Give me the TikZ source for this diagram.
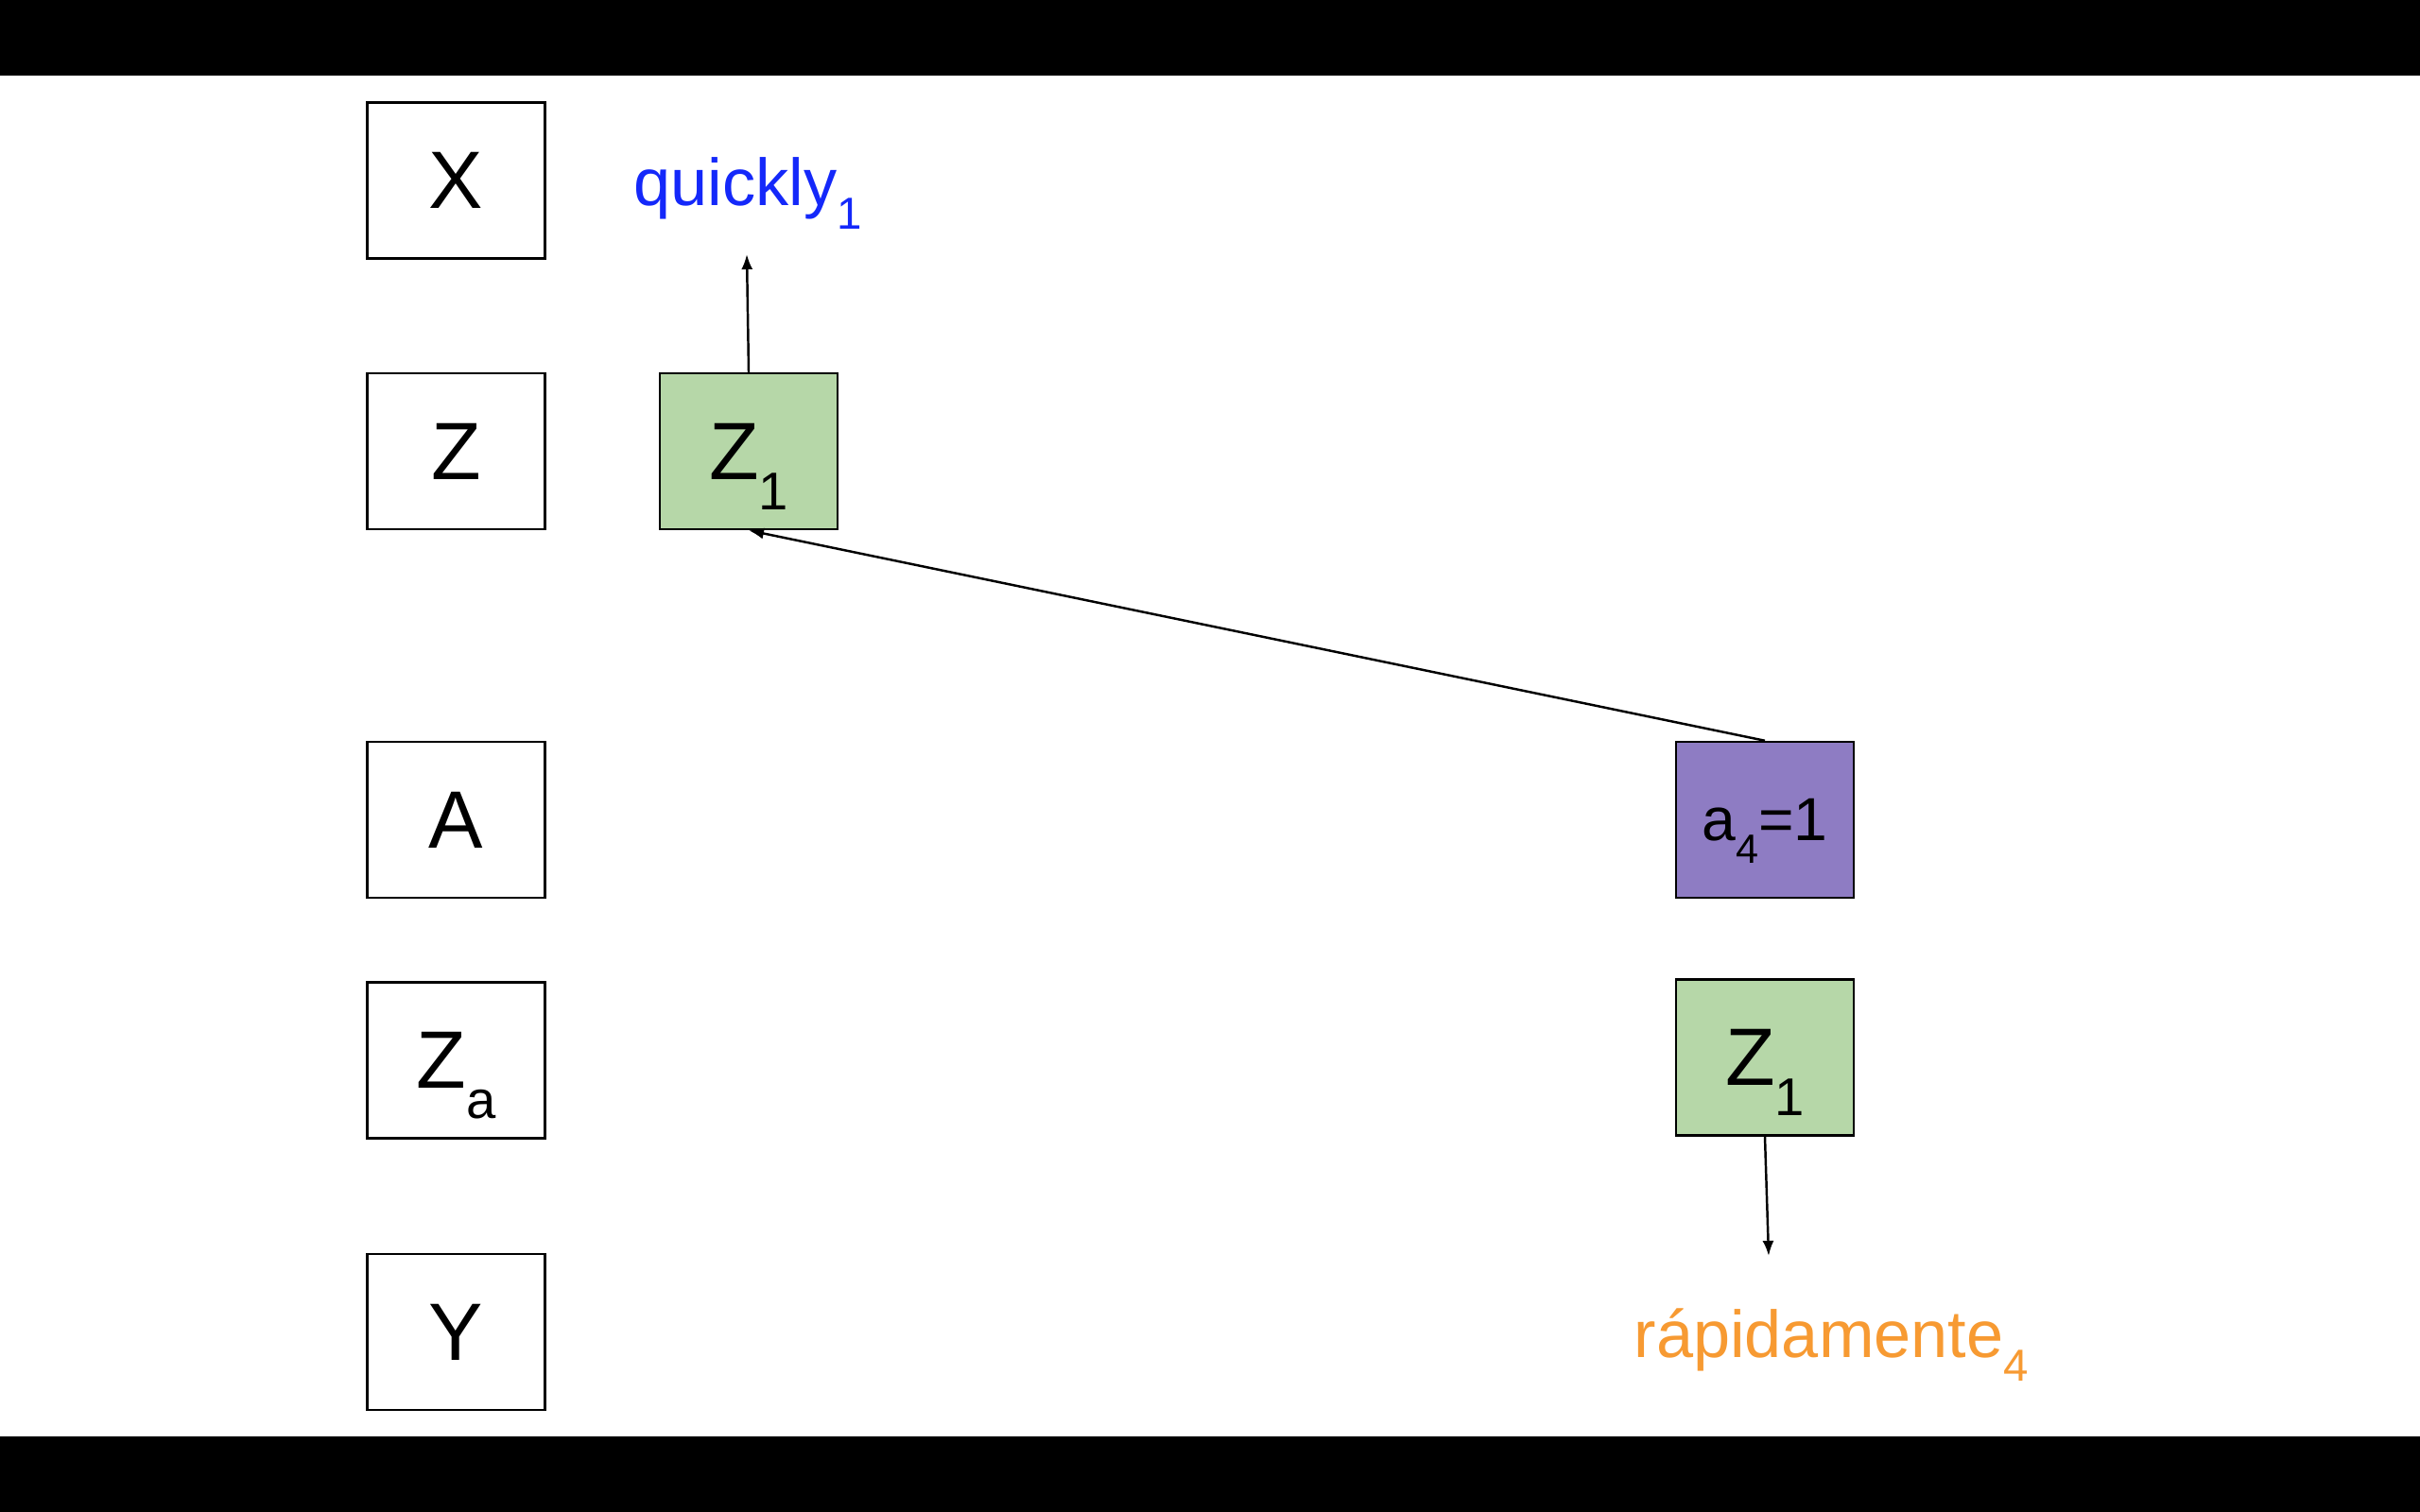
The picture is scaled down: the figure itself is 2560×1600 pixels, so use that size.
\documentclass[tikz,border=0pt]{standalone}
\usepackage{fontspec}
\setmainfont{Liberation Sans}
\usetikzlibrary{arrows.meta}
\definecolor{boxgreen}{HTML}{B6D7A8}
\definecolor{boxpurple}{HTML}{8E7CC3}
\definecolor{wordblue}{RGB}{20,40,250}
\definecolor{wordorange}{HTML}{F79A32}
\newcommand{\bigtxt}{\fontsize{24.5}{29}\selectfont}
\newcommand{\midtxt}{\fontsize{18.3}{22}\selectfont}
\newcommand{\wordtxt}{\fontsize{20}{24}\selectfont}
\newcommand{\subbox}[1]{\raisebox{-9.2pt}[0pt][0pt]{\fontsize{16}{19}\selectfont #1}}
\newcommand{\subpurple}[1]{\raisebox{-6.8pt}[0pt][0pt]{\fontsize{12.3}{15}\selectfont #1}}
\newcommand{\subword}[1]{\raisebox{-7.3pt}[0pt][0pt]{\fontsize{13.5}{16}\selectfont #1}}
\tikzset{
  cell/.style={draw=black, line width=0.7pt, rectangle, inner sep=0pt,
    minimum width=18.8mm, minimum height=16.5mm, anchor=center, font=\bigtxt},
  greencell/.style={cell, fill=boxgreen},
  purplecell/.style={cell, fill=boxpurple, font=\midtxt},
  link/.style={line width=0.7pt, -{Latex[length=1.6mm,width=1.2mm]}},
  word/.style={inner sep=0pt, font=\wordtxt}
}
\begin{document}
\begin{tikzpicture}[x=0.1mm,y=-0.1mm]
\useasboundingbox (0,0) rectangle (2560,1600);
\fill[white] (0,0) rectangle (2560,1600);
\fill[black] (0,0) rectangle (2560,80);
\fill[black] (0,1520) rectangle (2560,1600);

\node[cell] (X) at (482.5,191) {X};
\node[cell] (Z) at (482.5,477.5) {Z};
\node[cell] (A) at (482.5,867.5) {A};
\node[cell] (Za) at (482.5,1122) {Z\subbox{a}};
\node[cell] (Y) at (482.5,1409.5) {Y};

\node[greencell] (Z1top) at (792,477.5) {Z\subbox{1}};
\node[purplecell] (a4) at (1867,867.5) {a\subpurple{4}=1};
\node[greencell] (Z1bot) at (1867,1119) {Z\subbox{1}};

\node[word, text=wordblue, anchor=base west] (quickly) at (670,217) {quickly\subword{1}};
\node[word, text=wordorange, anchor=base west] (rapid) at (1728,1436) {rápidamente\subword{4}};

\coordinate (qend) at (790,269);
\coordinate (rend) at (1871,1329);

\draw[link] (Z1top.north) -- (qend);
\draw[link] (a4.north) -- (Z1top.south);
\draw[link] (Z1bot.south) -- (rend);
\end{tikzpicture}
\end{document}
